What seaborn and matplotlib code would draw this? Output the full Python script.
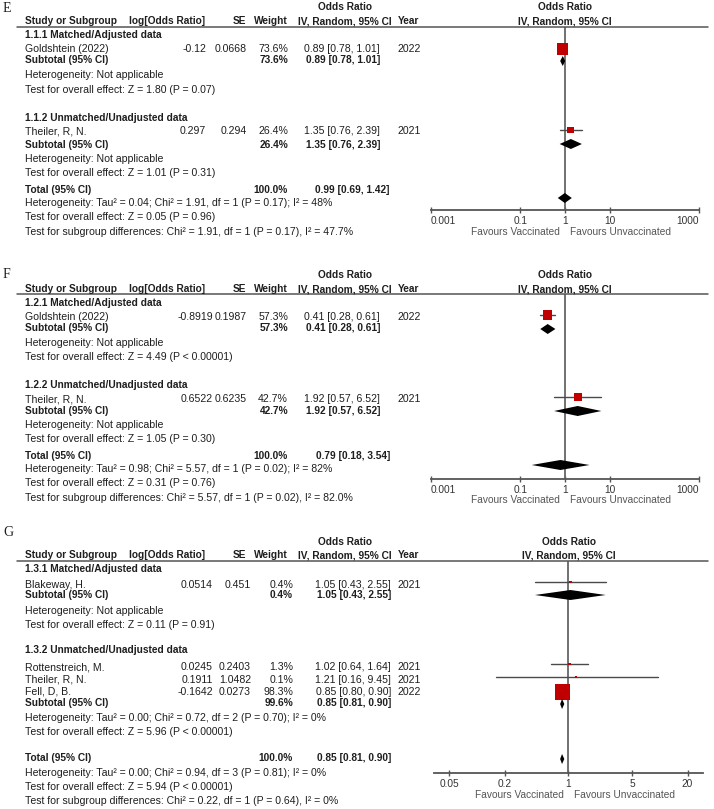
import numpy as np
import pandas as pd
import matplotlib
matplotlib.use("Agg")
import matplotlib.pyplot as plt
from matplotlib.ticker import NullLocator
import seaborn as sns

# ---------------- data ----------------
# Panel E
E_sub_titles = ["1.1.1 Matched/Adjusted data", "1.1.2 Unmatched/Unadjusted data"]
E_study = ["Goldshtein (2022)", "Theiler, R, N."]
E_study_sub = [0, 1]
E_logor = [-0.12, 0.297]
E_se = [0.0668, 0.294]
E_weight = [73.6, 26.4]
E_or = [0.89, 1.35]
E_lo = [0.78, 0.76]
E_hi = [1.01, 2.39]
E_year = [2022, 2021]
E_sub_weight = [73.6, 26.4]
E_sub_or = [0.89, 1.35]
E_sub_lo = [0.78, 0.76]
E_sub_hi = [1.01, 2.39]
E_sub_het = ["Heterogeneity: Not applicable", "Heterogeneity: Not applicable"]
E_sub_test = ["Test for overall effect: Z = 1.80 (P = 0.07)",
              "Test for overall effect: Z = 1.01 (P = 0.31)"]
E_total = [100.0, 0.99, 0.69, 1.42]
E_total_text = ["Heterogeneity: Tau\u00b2 = 0.04; Chi\u00b2 = 1.91, df = 1 (P = 0.17); I\u00b2 = 48%",
                "Test for overall effect: Z = 0.05 (P = 0.96)",
                "Test for subgroup differences: Chi\u00b2 = 1.91, df = 1 (P = 0.17), I\u00b2 = 47.7%"]
E_ticks = [0.001, 0.1, 1, 10, 1000]
E_tick_labels = ["0.001", "0.1", "1", "10", "1000"]

# Panel F
F_sub_titles = ["1.2.1 Matched/Adjusted data", "1.2.2 Unmatched/Unadjusted data"]
F_study = ["Goldshtein (2022)", "Theiler, R, N."]
F_study_sub = [0, 1]
F_logor = [-0.8919, 0.6522]
F_se = [0.1987, 0.6235]
F_weight = [57.3, 42.7]
F_or = [0.41, 1.92]
F_lo = [0.28, 0.57]
F_hi = [0.61, 6.52]
F_year = [2022, 2021]
F_sub_weight = [57.3, 42.7]
F_sub_or = [0.41, 1.92]
F_sub_lo = [0.28, 0.57]
F_sub_hi = [0.61, 6.52]
F_sub_het = ["Heterogeneity: Not applicable", "Heterogeneity: Not applicable"]
F_sub_test = ["Test for overall effect: Z = 4.49 (P < 0.00001)",
              "Test for overall effect: Z = 1.05 (P = 0.30)"]
F_total = [100.0, 0.79, 0.18, 3.54]
F_total_text = ["Heterogeneity: Tau\u00b2 = 0.98; Chi\u00b2 = 5.57, df = 1 (P = 0.02); I\u00b2 = 82%",
                "Test for overall effect: Z = 0.31 (P = 0.76)",
                "Test for subgroup differences: Chi\u00b2 = 5.57, df = 1 (P = 0.02), I\u00b2 = 82.0%"]
F_ticks = [0.001, 0.1, 1, 10, 1000]
F_tick_labels = ["0.001", "0.1", "1", "10", "1000"]

# Panel G
G_sub_titles = ["1.3.1 Matched/Adjusted data", "1.3.2 Unmatched/Unadjusted data"]
G_study = ["Blakeway, H.", "Rottenstreich, M.", "Theiler, R, N.", "Fell, D, B."]
G_study_sub = [0, 1, 1, 1]
G_logor = [0.0514, 0.0245, 0.1911, -0.1642]
G_se = [0.451, 0.2403, 1.0482, 0.0273]
G_weight = [0.4, 1.3, 0.1, 98.3]
G_or = [1.05, 1.02, 1.21, 0.85]
G_lo = [0.43, 0.64, 0.16, 0.80]
G_hi = [2.55, 1.64, 9.45, 0.90]
G_year = [2021, 2021, 2021, 2022]
G_sub_weight = [0.4, 99.6]
G_sub_or = [1.05, 0.85]
G_sub_lo = [0.43, 0.81]
G_sub_hi = [2.55, 0.90]
G_sub_het = ["Heterogeneity: Not applicable",
             "Heterogeneity: Tau\u00b2 = 0.00; Chi\u00b2 = 0.72, df = 2 (P = 0.70); I\u00b2 = 0%"]
G_sub_test = ["Test for overall effect: Z = 0.11 (P = 0.91)",
              "Test for overall effect: Z = 5.96 (P < 0.00001)"]
G_total = [100.0, 0.85, 0.81, 0.90]
G_total_text = ["Heterogeneity: Tau\u00b2 = 0.00; Chi\u00b2 = 0.94, df = 3 (P = 0.81); I\u00b2 = 0%",
                "Test for overall effect: Z = 5.94 (P < 0.00001)",
                "Test for subgroup differences: Chi\u00b2 = 0.22, df = 1 (P = 0.64), I\u00b2 = 0%"]
G_ticks = [0.05, 0.2, 1, 5, 20]
G_tick_labels = ["0.05", "0.2", "1", "5", "20"]

HEADERS = ["Study or Subgroup", "log[Odds Ratio]", "SE", "Weight", "IV, Random, 95% CI", "Year"]
OR_TITLE = "Odds Ratio"
FAVOURS = ["Favours Vaccinated", "Favours Unvaccinated"]

# ---------------- layout (pixel positions, not data) ----------------
LAYOUT = {
    "E": dict(label_y=9, or_y=7, head_y=21, line_y=27,
              sub_head=[35, 118], study_y=[49, 131], mark_y=[49, 130],
              subtot_y=[60, 145], subdia_y=[61, 144], het_y=[75, 159], test_y=[90, 173],
              total_y=190, total_lines=[203, 217, 232], total_dia=198,
              axis_y=210, fav_y=232, ax_x=(431, 699), xlim=(0.001, 1000),
              c_log=206, c_se=247, c_w=288, c_ci=380, c_ci_tot=390, c_year=398, s100=85),
    "F": dict(label_y=275, or_y=275, head_y=289, line_y=294,
              sub_head=[303, 385], study_y=[317, 399], mark_y=[315, 397],
              subtot_y=[328, 411], subdia_y=[329, 411], het_y=[343, 425], test_y=[357, 439],
              total_y=456, total_lines=[469, 483, 498], total_dia=465,
              axis_y=479, fav_y=500, ax_x=(431, 699), xlim=(0.001, 1000),
              c_log=213, c_se=247, c_w=288, c_ci=380, c_ci_tot=390, c_year=398, s100=73),
    "G": dict(label_y=533, or_y=542, head_y=555, line_y=561,
              sub_head=[569, 650], study_y=[585, 667, 680, 692], mark_y=[582, 664, 677, 692],
              subtot_y=[595, 703], subdia_y=[595, 704], het_y=[611, 718], test_y=[625, 732],
              total_y=758, total_lines=[773, 787, 801], total_dia=759,
              axis_y=773, fav_y=795, ax_x=(434, 703), xlim=(0.0339, 29.5),
              c_log=213, c_se=251, c_w=293, c_ci=391, c_ci_tot=391, c_year=398, s100=119),
}

PANELS = {
    "E": dict(titles=E_sub_titles, study=E_study, sub=E_study_sub, logor=E_logor, se=E_se,
              w=E_weight, orr=E_or, lo=E_lo, hi=E_hi, year=E_year,
              sw=E_sub_weight, sor=E_sub_or, slo=E_sub_lo, shi=E_sub_hi,
              shet=E_sub_het, stest=E_sub_test, total=E_total, ttext=E_total_text,
              ticks=E_ticks, tlabels=E_tick_labels),
    "F": dict(titles=F_sub_titles, study=F_study, sub=F_study_sub, logor=F_logor, se=F_se,
              w=F_weight, orr=F_or, lo=F_lo, hi=F_hi, year=F_year,
              sw=F_sub_weight, sor=F_sub_or, slo=F_sub_lo, shi=F_sub_hi,
              shet=F_sub_het, stest=F_sub_test, total=F_total, ttext=F_total_text,
              ticks=F_ticks, tlabels=F_tick_labels),
    "G": dict(titles=G_sub_titles, study=G_study, sub=G_study_sub, logor=G_logor, se=G_se,
              w=G_weight, orr=G_or, lo=G_lo, hi=G_hi, year=G_year,
              sw=G_sub_weight, sor=G_sub_or, slo=G_sub_lo, shi=G_sub_hi,
              shet=G_sub_het, stest=G_sub_test, total=G_total, ttext=G_total_text,
              ticks=G_ticks, tlabels=G_tick_labels),
}

# ---------------- drawing ----------------
sns.set_theme(style="white")
plt.rcParams['font.family'] = ['Liberation Sans', 'DejaVu Sans']

W, H = 714, 809
fig = plt.figure(figsize=(W / 100, H / 100), dpi=100)
FS = 7.6      # regular text
FSB = 7.3     # bold text
TXT = "#1e1e1e"
RED = "#c00000"


def fx(x):
    return x / W


def fy(y):
    return 1 - y / H


def txt(x, y, s, ha="left", bold=False, size=None, color=TXT, family=None):
    kw = {}
    if family is not None:
        kw["family"] = family
    if size is None:
        size = FSB if bold else FS
    fig.text(fx(x), fy(y), s, ha=ha, va="center", fontsize=size,
             fontweight="bold" if bold else "normal", color=color, **kw)


def ci_str(o, l, h):
    return f"{o:.2f} [{l:.2f}, {h:.2f}]"


for key in ["E", "F", "G"]:
    P = PANELS[key]
    L = LAYOUT[key]
    x0, x1 = L["ax_x"]
    cx = (x0 + x1) / 2

    # panel letter
    txt(3, L["label_y"], key, size=10, family=["Liberation Serif", "DejaVu Serif"])
    # headers
    txt(345, L["or_y"], OR_TITLE, ha="center", bold=True)
    txt(cx, L["or_y"], OR_TITLE, ha="center", bold=True)
    hy = L["head_y"]
    txt(25, hy, HEADERS[0], bold=True)
    txt(205, hy, HEADERS[1], ha="right", bold=True)
    txt(246, hy, HEADERS[2], ha="right", bold=True)
    txt(288, hy, HEADERS[3], ha="right", bold=True)
    txt(298, hy, HEADERS[4], bold=True)
    txt(398, hy, HEADERS[5], bold=True)
    txt(cx, hy, HEADERS[4], ha="center", bold=True)
    fig.add_artist(plt.Line2D([fx(17), fx(708)], [fy(L["line_y"]), fy(L["line_y"])],
                              color="#555555", lw=1.1))

    # subgroups
    for g in range(len(P["titles"])):
        txt(25, L["sub_head"][g], P["titles"][g], bold=True)
        txt(25, L["subtot_y"][g], "Subtotal (95% CI)", bold=True)
        txt(L["c_w"], L["subtot_y"][g], f"{P['sw'][g]:.1f}%", ha="right", bold=True)
        txt(L["c_ci"], L["subtot_y"][g],
            ci_str(P["sor"][g], P["slo"][g], P["shi"][g]), ha="right", bold=True)
        txt(25, L["het_y"][g], P["shet"][g])
        txt(25, L["test_y"][g], P["stest"][g])

    # studies
    for i in range(len(P["study"])):
        y = L["study_y"][i]
        txt(25, y, P["study"][i])
        txt(L["c_log"], y, str(P["logor"][i]), ha="right")
        txt(L["c_se"], y, str(P["se"][i]), ha="right")
        txt(L["c_w"], y, f"{P['w'][i]:.1f}%", ha="right")
        txt(L["c_ci"], y, ci_str(P["orr"][i], P["lo"][i], P["hi"][i]), ha="right")
        txt(L["c_year"], y, str(P["year"][i]))

    # total
    tw, to, tl, th = P["total"]
    txt(25, L["total_y"], "Total (95% CI)", bold=True)
    txt(L["c_w"], L["total_y"], f"{tw:.1f}%", ha="right", bold=True)
    txt(L["c_ci_tot"], L["total_y"], ci_str(to, tl, th), ha="right", bold=True)
    for s, y in zip(P["ttext"], L["total_lines"]):
        txt(25, y, s)

    # forest axes
    ax = fig.add_axes([fx(x0), fy(L["axis_y"]), (x1 - x0) / W, (L["axis_y"] - L["line_y"]) / H])
    ax.patch.set_alpha(0)
    ax.set_xscale("log")
    ax.set_xlim(*L["xlim"])
    ax.set_ylim(L["axis_y"], L["line_y"])
    ax.axvline(1, color="#666666", lw=1.3, zorder=1)

    df = pd.DataFrame({"or": P["orr"], "lo": P["lo"], "hi": P["hi"],
                       "w": P["w"], "y": L["mark_y"]})
    for _, r in df.iterrows():
        ax.plot([r["lo"], r["hi"]], [r["y"], r["y"]], color="#4a4a4a", lw=1.0, zorder=2)
    sns.scatterplot(data=df, x="or", y="y", size="w", sizes=(2, L["s100"]), size_norm=(0, 100),
                    marker="s", color=RED, linewidth=0, legend=False, ax=ax, zorder=3)

    half = 5
    dia = list(zip(P["sor"], P["slo"], P["shi"], L["subdia_y"])) + [(to, tl, th, L["total_dia"])]
    for o, l, h, y in dia:
        ax.fill([l, o, h, o], [y, y - half, y, y + half], color="black", lw=0, zorder=4)

    for s in ["top", "left", "right"]:
        ax.spines[s].set_visible(False)
    ax.spines["bottom"].set_color("#555555")
    ax.spines["bottom"].set_linewidth(1.3)
    ax.set_yticks([])
    ax.set_ylabel("")
    ax.set_xlabel("")
    ax.set_xticks(P["ticks"])
    ax.set_xticklabels(P["tlabels"])
    ax.xaxis.set_minor_locator(NullLocator())
    ax.tick_params(axis="x", direction="inout", length=5, width=1.0, color="#555555",
                   labelsize=7.3, labelcolor="#333333", pad=1.5, bottom=True)
    if key in ("E", "F"):
        lbls = ax.get_xticklabels()
        lbls[0].set_ha("left")
        lbls[-1].set_ha("right")

    txt(cx - 5, L["fav_y"], FAVOURS[0], ha="right", color="#555555", size=7.3)
    txt(cx + 5, L["fav_y"], FAVOURS[1], ha="left", color="#555555", size=7.3)

fig.savefig("out.png", dpi=100)
